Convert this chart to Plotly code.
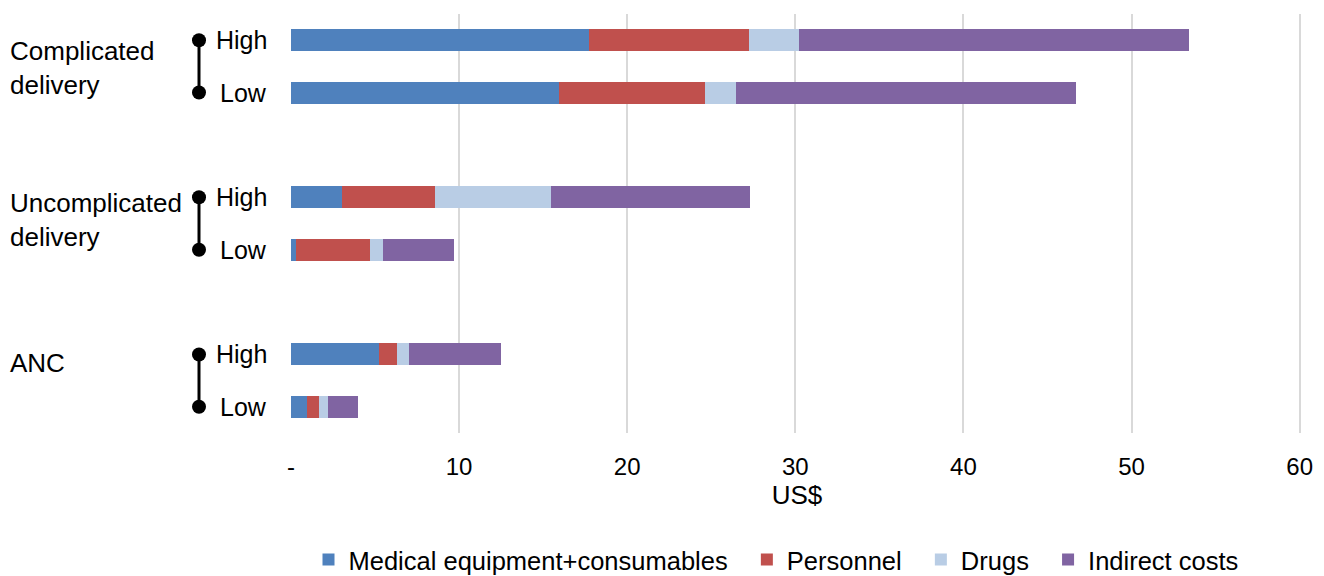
import plotly.graph_objects as go

# Data
groups = ["Complicated<br>delivery", "Uncomplicated<br>delivery", "ANC"]
levels = ["High", "Low", "High", "Low", "High", "Low"]
positions = [0, 1, 3, 4, 6, 7]
series_names = ["Medical equipment+consumables", "Personnel", "Drugs", "Indirect costs"]
medical = [17.75, 15.92, 3.05, 0.30, 5.22, 0.97]
personnel = [9.52, 8.73, 5.50, 4.40, 1.07, 0.72]
drugs = [2.93, 1.80, 6.90, 0.76, 0.73, 0.53]
indirect = [23.2, 20.25, 11.85, 4.22, 5.46, 1.78]
colors = ["#4F81BD", "#C0504D", "#B9CDE5", "#8064A2"]
x_ticks = [0, 10, 20, 30, 40, 50, 60]
x_ticktext = ["-", "10", "20", "30", "40", "50", "60"]
group_label_y = [0.53, 3.43, 6.16]

FONT = "Liberation Sans, Arial, sans-serif"

# page has an 8px body margin; compensate
W, H = 1316, 568
L, R, T, B = 283, 21, 6, 143
PW = W - L - R
NB = "\u00a0\u00a0"

fig = go.Figure()
for i, (name, vals, col) in enumerate(zip(series_names, [medical, personnel, drugs, indirect], colors)):
    label = name + (NB if i < len(series_names) - 1 else "")
    fig.add_trace(go.Bar(
        x=vals, y=positions, name=label, orientation="h",
        marker=dict(color=col, line=dict(width=0)), width=0.42,
    ))

fig.update_layout(
    barmode="stack",
    width=W, height=H,
    margin=dict(l=L, r=R, t=T, b=B),
    plot_bgcolor="white", paper_bgcolor="white",
    font=dict(family=FONT, size=24, color="#000000"),
    showlegend=True,
    legend=dict(orientation="h", xref="paper", x=(768 - L) / PW, xanchor="center",
                yref="container", y=1 - 552 / H, yanchor="middle",
                font=dict(size=25.5), traceorder="normal", itemwidth=30),
    bargap=0,
)
fig.update_xaxes(
    range=[0, 60.2], tickvals=x_ticks, ticktext=x_ticktext,
    showgrid=True, gridcolor="#D9D9D9", gridwidth=2, zeroline=False,
    showline=False, ticks="outside", ticklen=12, tickcolor="rgba(0,0,0,0)",
    tickfont=dict(size=24),
    title=dict(text="US$", standoff=6, font=dict(size=26)),
)
fig.update_yaxes(
    range=[7.5, -0.5], showticklabels=False, showgrid=False, zeroline=False,
    showline=False,
)

# High / Low labels
for p, lv in zip(positions, levels):
    fig.add_annotation(x=0, xref="paper", y=p, yref="y", text=lv, showarrow=False,
                       xanchor="right", xshift=-22, font=dict(size=25))

# Group labels
gx = (0 - L) / PW
for g, gy in zip(groups, group_label_y):
    fig.add_annotation(x=gx, xref="paper", y=gy, yref="y", text=g, showarrow=False,
                       xanchor="left", yanchor="middle", align="left", font=dict(size=26))

# Dumbbell connectors
xd = (191 - L) / PW
for a, b in [(0, 1), (3, 4), (6, 7)]:
    fig.add_shape(type="line", xref="paper", yref="y", x0=xd, x1=xd, y0=a, y1=b,
                  line=dict(color="black", width=3))
    for yy in (a, b):
        fig.add_shape(type="circle", xref="paper", yref="y", xsizemode="pixel", ysizemode="pixel",
                      xanchor=xd, yanchor=yy, x0=-7, x1=7, y0=-7, y1=7,
                      fillcolor="black", line=dict(color="black", width=0))

fig.write_html("out.html")
